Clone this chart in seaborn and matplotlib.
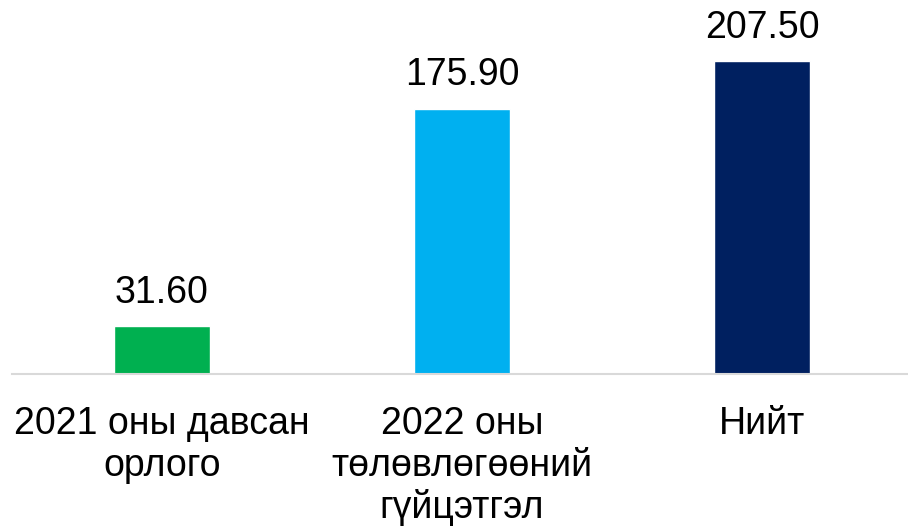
import pandas as pd
import matplotlib.pyplot as plt
import seaborn as sns

# Chart values
categories = ["2021 оны давсан\nорлого", "2022 оны\nтөлөвлөгөөний\nгүйцэтгэл", "Нийт"]
values = [31.60, 175.90, 207.50]
colors = ["#00B050", "#00B0F0", "#002060"]

df = pd.DataFrame({"category": categories, "value": values})

sns.set_style("white")
plt.rcParams["font.family"] = ["Liberation Sans", "DejaVu Sans"]

fig = plt.figure(figsize=(9.08, 5.26), dpi=100)
ax = fig.add_axes([12 / 908, 152 / 526, 900 / 908, 374 / 526])

sns.barplot(data=df, x="category", y="value", hue="category",
            palette=colors, width=0.317, saturation=1, legend=False, ax=ax)

for container in ax.containers:
    ax.bar_label(container, fmt="%.2f", fontsize=27, padding=11, color="black")

ax.set_xlim(-0.5, 2.5)
ax.set_ylim(0, 248)
ax.set_xlabel("")
ax.set_ylabel("")
ax.set_yticks([])
ax.tick_params(axis="x", length=0, labelsize=27, pad=23, labelcolor="black")
for name in ["top", "left", "right"]:
    ax.spines[name].set_visible(False)
ax.spines["bottom"].set_color("#D9D9D9")
ax.spines["bottom"].set_linewidth(1.5)

fig.savefig("out.png", dpi=100)
plt.close(fig)
